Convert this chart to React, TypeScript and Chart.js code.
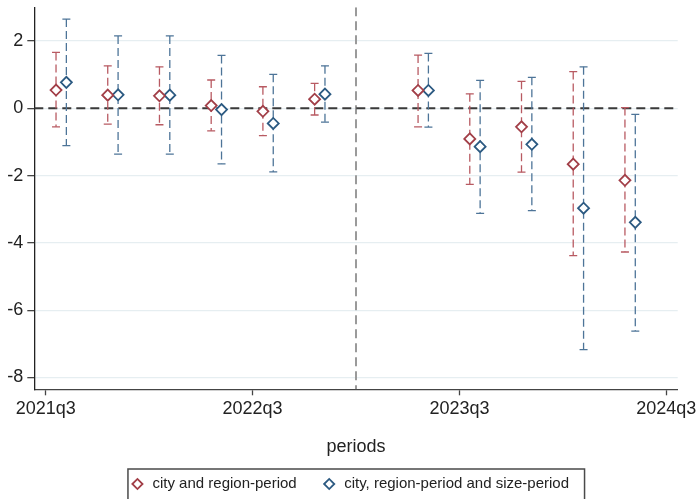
import { useEffect, useRef } from "react";
import { Chart, registerables } from "chart.js";

Chart.register(...registerables);

// ---- data ----
const xTickValues = [0, 4, 8, 12];
const xTickLabels = ["2021q3", "2022q3", "2023q3", "2024q3"];
const yTickValues = [-8, -6, -4, -2, 0, 2];
const periodIndex = [0, 1, 2, 3, 4, 5, 7, 8, 9, 10, 11];
const referencePeriod = 6;

const seriesNames = ["city and region-period", "city, region-period and size-period"];

const est1 = [0.54, 0.39, 0.37, 0.08, -0.09, 0.27, 0.53, -0.91, -0.55, -1.66, -2.14];
const lo1 = [-0.55, -0.47, -0.49, -0.67, -0.81, -0.2, -0.55, -2.26, -1.9, -4.38, -4.27];
const hi1 = [1.66, 1.26, 1.23, 0.84, 0.64, 0.74, 1.58, 0.43, 0.8, 1.09, 0.02];

const est2 = [0.77, 0.4, 0.39, -0.04, -0.45, 0.42, 0.53, -1.14, -1.07, -2.97, -3.39];
const lo2 = [-1.11, -1.36, -1.36, -1.65, -1.89, -0.41, -0.56, -3.12, -3.04, -7.17, -6.62];
const hi2 = [2.65, 2.15, 2.15, 1.57, 1.01, 1.26, 1.63, 0.83, 0.92, 1.23, -0.18];

// ---- styling ----
const DODGE = [0.2, 0.4];
const MARKER = ["#a23f48", "#2c5a82"];
const BAR = ["#b85a62", "#4d7498"];
const FONT = "'Liberation Sans', Arial, sans-serif";
const TEXT = "#222222";
const LEGEND_SHIFT = -6.5;

const W = 697;
const H = 499;

function build(est: number[], lo: number[], hi: number[], dodge: number) {
  return est.map((v, i) => ({ x: periodIndex[i] + dodge, y: v, lo: lo[i], hi: hi[i] }));
}

const errorBarPlugin = {
  id: "errorBars",
  beforeDatasetsDraw(chart: any) {
    const { ctx, chartArea, scales } = chart;
    const x = scales.x;
    const y = scales.y;
    ctx.save();
    ctx.beginPath();
    ctx.rect(chartArea.left, chartArea.top, chartArea.right - chartArea.left, chartArea.bottom - chartArea.top);
    ctx.clip();

    // reference period vertical line
    const vx = x.getPixelForValue(referencePeriod);
    ctx.setLineDash([9, 5]);
    ctx.strokeStyle = "#9a9a9a";
    ctx.lineWidth = 2;
    ctx.beginPath();
    ctx.moveTo(vx, chartArea.top);
    ctx.lineTo(vx, chartArea.bottom);
    ctx.stroke();

    // zero line
    const zy = y.getPixelForValue(0);
    ctx.strokeStyle = "#3a3a3a";
    ctx.lineWidth = 2;
    ctx.beginPath();
    ctx.moveTo(chartArea.left, zy);
    ctx.lineTo(chartArea.right, zy);
    ctx.stroke();

    chart.data.datasets.forEach((ds: any, di: number) => {
      ds.data.forEach((pt: any) => {
        const px = x.getPixelForValue(pt.x);
        const pl = y.getPixelForValue(pt.lo);
        const ph = y.getPixelForValue(pt.hi);
        ctx.strokeStyle = BAR[di];
        ctx.lineWidth = 1.3;
        ctx.setLineDash([8, 4]);
        ctx.beginPath();
        ctx.moveTo(px, ph);
        ctx.lineTo(px, pl);
        ctx.stroke();
        ctx.setLineDash([]);
        ctx.beginPath();
        ctx.moveTo(px - 4, ph);
        ctx.lineTo(px + 4, ph);
        ctx.moveTo(px - 4, pl);
        ctx.lineTo(px + 4, pl);
        ctx.stroke();
      });
    });
    ctx.restore();
  },
};

const legendFramePlugin = {
  id: "legendFrame",
  afterLayout(chart: any) {
    const lg = chart.legend;
    if (!lg) return;
    lg.left += LEGEND_SHIFT;
    lg.right += LEGEND_SHIFT;
  },
  afterDraw(chart: any) {
    const lg = chart.legend;
    if (!lg || !lg.legendHitBoxes || !lg.legendHitBoxes.length) return;
    const hb = lg.legendHitBoxes;
    const first = hb[0];
    const last = hb[hb.length - 1];
    const left = first.left - 2;
    const right = last.left + last.width + 15.5;
    const top = first.top + first.height / 2 - 15;
    const { ctx } = chart;
    ctx.save();
    ctx.strokeStyle = "#4a4a4a";
    ctx.lineWidth = 1.5;
    ctx.strokeRect(left, top, right - left, chart.height + 4 - top);
    ctx.restore();
  },
};

export default function App() {
  const ref = useRef<HTMLCanvasElement | null>(null);

  useEffect(() => {
    if (!ref.current) return;
    const chart = new Chart(ref.current, {
      type: "scatter",
      data: {
        datasets: [
          {
            label: seriesNames[0],
            data: build(est1, lo1, hi1, DODGE[0]),
            pointStyle: "rectRot",
            pointRadius: 5.5,
            pointBorderWidth: 1.8,
            borderColor: MARKER[0],
            backgroundColor: "#ffffff",
            borderWidth: 1.8,
          },
          {
            label: seriesNames[1],
            data: build(est2, lo2, hi2, DODGE[1]),
            pointStyle: "rectRot",
            pointRadius: 5.5,
            pointBorderWidth: 1.8,
            borderColor: MARKER[1],
            backgroundColor: "#ffffff",
            borderWidth: 1.8,
          },
        ] as any,
      },
      options: {
        responsive: false,
        animation: false,
        events: [],
        layout: { padding: { top: 7, right: 19.3, bottom: -2.5, left: 0 } },
        scales: {
          x: {
            type: "linear",
            min: -0.22,
            max: 12.22,
            afterBuildTicks: (s: any) => {
              s.ticks = xTickValues.map((v) => ({ value: v }));
            },
            afterFit: (s: any) => {
              s.height = 62.2;
              s.paddingLeft = 0;
              s.paddingRight = 0;
            },
            ticks: {
              autoSkip: false,
              maxRotation: 0,
              padding: 3,
              color: TEXT,
              font: { family: FONT, size: 18 },
              callback: (v: any) => {
                const i = xTickValues.indexOf(Number(v));
                return i >= 0 ? xTickLabels[i] : "";
              },
            },
            grid: {
              drawOnChartArea: false,
              drawTicks: true,
              tickLength: 6,
              tickColor: "#444444",
              tickWidth: 1.3,
            },
            border: { display: true, color: "#444444", width: 1.3 },
            title: {
              display: true,
              text: "periods",
              color: TEXT,
              font: { family: FONT, size: 18 },
              padding: { top: 0, bottom: -6 },
            },
          },
          y: {
            type: "linear",
            min: -8.35,
            max: 3.0,
            afterBuildTicks: (s: any) => {
              s.ticks = yTickValues.map((v) => ({ value: v }));
            },
            afterFit: (s: any) => {
              s.width = 34.3;
              s.paddingTop = 0;
              s.paddingBottom = 0;
            },
            ticks: {
              padding: 4,
              color: TEXT,
              font: { family: FONT, size: 18 },
              callback: (v: any) => String(v),
            },
            grid: {
              color: "#e6eef1",
              lineWidth: 1.3,
              drawTicks: true,
              tickLength: 7,
              tickColor: "#444444",
              tickWidth: 1.3,
            },
            border: { display: true, color: "#222222", width: 1.3 },
          },
        },
        plugins: {
          tooltip: { enabled: false },
          legend: {
            display: true,
            position: "bottom",
            fullSize: false,
            labels: {
              usePointStyle: true,
              boxWidth: 18,
              boxHeight: 7.2,
              padding: 25,
              color: TEXT,
              font: { family: FONT, size: 15 },
            },
          },
        },
      } as any,
      plugins: [errorBarPlugin, legendFramePlugin],
    });
    return () => chart.destroy();
  }, []);

  return (
    <div style={{ position: "absolute", left: 0, top: 0, width: W, height: H, background: "#ffffff" }}>
      <canvas ref={ref} width={W} height={H} style={{ display: "block" }} />
    </div>
  );
}
